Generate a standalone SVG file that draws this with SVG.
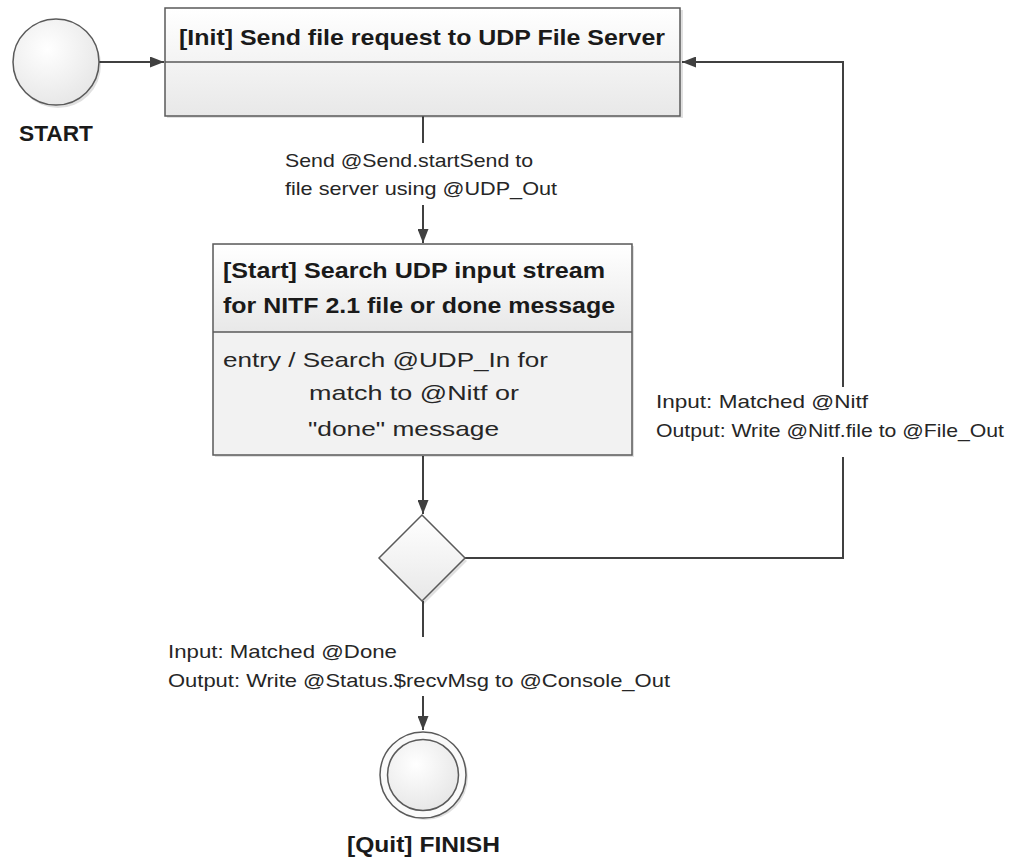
<svg xmlns="http://www.w3.org/2000/svg" width="1033" height="857" viewBox="0 0 1033 857">
<style>
.lbl{font-family:"Liberation Sans",Arial,sans-serif;font-size:19px;fill:#262626}
.ttl{font-family:"Liberation Sans",Arial,sans-serif;font-size:22px;font-weight:bold;fill:#1a1a1a}
.bdy{font-family:"Liberation Sans",Arial,sans-serif;font-size:21px;fill:#262626}
.shape{stroke:#5a5a5a;stroke-width:1.5}
.conn{stroke:#404040;stroke-width:2;fill:none}
.shadow{fill:#000;opacity:0.12}
</style>
<defs>
<linearGradient id="g" x1="0" y1="0" x2="0" y2="1">
<stop offset="0" stop-color="#ffffff"/>
<stop offset="1" stop-color="#e8e8e8"/>
</linearGradient>
<radialGradient id="rg" cx="0.4" cy="0.35" r="0.7">
<stop offset="0" stop-color="#ffffff"/>
<stop offset="1" stop-color="#e6e6e6"/>
</radialGradient>
<marker id="arr" viewBox="0 0 14 11" refX="14" refY="5.5" markerWidth="14" markerHeight="11" markerUnits="userSpaceOnUse" orient="auto">
<path d="M0,0 L14,5.5 L0,11 Z" fill="#404040"/>
</marker>
</defs>

<g id="connectors">
<line class="conn" x1="99" y1="62" x2="164" y2="62" marker-end="url(#arr)"/>
<line class="conn" x1="423" y1="116" x2="423" y2="143"/>
<line class="conn" x1="423" y1="205" x2="423" y2="243" marker-end="url(#arr)"/>
<line class="conn" x1="423" y1="456" x2="423" y2="514" marker-end="url(#arr)"/>
<polyline class="conn" points="465,558 843,558 843,457"/>
<polyline class="conn" points="843,387 843,62 682,62" marker-end="url(#arr)"/>
<line class="conn" x1="423" y1="601" x2="423" y2="637"/>
<line class="conn" x1="423" y1="696" x2="423" y2="730" marker-end="url(#arr)"/>
<text class="lbl" x="285" y="167" textLength="248" lengthAdjust="spacingAndGlyphs">Send @Send.startSend to</text>
<text class="lbl" x="285" y="195" textLength="272" lengthAdjust="spacingAndGlyphs">file server using @UDP_Out</text>
<text class="lbl" x="656" y="408" textLength="212" lengthAdjust="spacingAndGlyphs">Input: Matched @Nitf</text>
<text class="lbl" x="656" y="437" textLength="348" lengthAdjust="spacingAndGlyphs">Output: Write @Nitf.file to @File_Out</text>
<text class="lbl" x="168" y="658" textLength="229" lengthAdjust="spacingAndGlyphs">Input: Matched @Done</text>
<text class="lbl" x="168" y="687" textLength="502" lengthAdjust="spacingAndGlyphs">Output: Write @Status.$recvMsg to @Console_Out</text>
</g>

<g id="start">
<circle class="shadow" cx="58" cy="65" r="43"/>
<circle class="shape" cx="56" cy="62" r="43" fill="url(#rg)"/>
<text class="ttl" x="19" y="141" textLength="74" lengthAdjust="spacingAndGlyphs">START</text>
</g>

<g id="init">
<rect class="shadow" x="167" y="10" width="516" height="108"/>
<rect class="shape" x="165" y="8" width="515" height="108" fill="url(#g)"/>
<line class="shape" x1="165" y1="62" x2="680" y2="62"/>
<text class="ttl" x="179" y="45" textLength="486" lengthAdjust="spacingAndGlyphs">[Init] Send file request to UDP File Server</text>
</g>

<g id="search">
<rect class="shadow" x="215" y="246" width="419" height="211"/>
<rect class="shape" x="213" y="244" width="419" height="211" fill="#f2f2f2"/>
<rect x="214" y="245" width="417" height="87" fill="url(#g)"/>
<line class="shape" x1="213" y1="332" x2="632" y2="332"/>
<text class="ttl" x="223" y="278" textLength="382" lengthAdjust="spacingAndGlyphs">[Start] Search UDP input stream</text>
<text class="ttl" x="223" y="313" textLength="392" lengthAdjust="spacingAndGlyphs">for NITF 2.1 file or done message</text>
<text class="bdy" x="223" y="367" textLength="325" lengthAdjust="spacingAndGlyphs">entry / Search @UDP_In for</text>
<text class="bdy" x="309" y="400" textLength="210" lengthAdjust="spacingAndGlyphs">match to @Nitf or</text>
<text class="bdy" x="308" y="436" textLength="191" lengthAdjust="spacingAndGlyphs">"done" message</text>
</g>

<g id="decision">
<polygon class="shadow" points="424,518 467,561 424,604 381,561"/>
<polygon class="shape" points="422,515 465,558 422,601 379,558" fill="url(#g)"/>
</g>

<g id="finish">
<circle class="shadow" cx="425" cy="777" r="43"/>
<circle class="shape" cx="423" cy="775" r="43" fill="#fafafa"/>
<circle class="shape" cx="423" cy="775" r="35.5" fill="url(#rg)"/>
<text class="ttl" x="347" y="852" textLength="153" lengthAdjust="spacingAndGlyphs">[Quit] FINISH</text>
</g>
</svg>
